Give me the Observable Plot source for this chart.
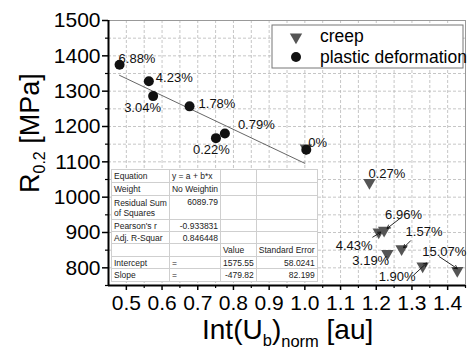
<!DOCTYPE html>
<html><head><meta charset="utf-8">
<script src="https://cdn.jsdelivr.net/npm/d3@7"></script>
<script src="https://cdn.jsdelivr.net/npm/@observablehq/plot@0.6"></script>
<style>
body{margin:0;background:#fff;}
#wrap{position:relative;width:468px;height:349px;font-family:"Liberation Sans",Arial,sans-serif;}
#fit{position:absolute;left:111px;top:169px;border-collapse:collapse;background:#fff;font-size:8.5px;color:#222;table-layout:fixed;border:1px solid #999;}
#fit td{border:1px solid #cfcfcf;padding:0 2px;vertical-align:middle;line-height:10px;white-space:nowrap;overflow:hidden;}
#fit td.r{text-align:right;}
#fit td.t{vertical-align:top;padding-top:1px;}
</style></head><body><div id="wrap"></div>
<script>
// ---- data ----
const plasticX = [0.481, 0.563, 0.575, 0.677, 0.751, 0.776, 1.004];
const plasticY = [1375, 1328, 1286, 1257, 1167, 1180, 1134];
const plasticLabels = ["6.88%", "4.23%", "3.04%", "1.78%", "0.22%", "0.79%", "0%"];

const creepX = [1.003, 1.181, 1.207, 1.222, 1.231, 1.271, 1.330, 1.427];
const creepY = [1139, 1041, 901, 906, 840, 854, 805, 792];
const creepLabels = ["", "0.27%", "4.43%", "6.96%", "3.19%", "1.57%", "1.90%", "15.07%"];

const fitIntercept = 1575.55, fitSlope = -479.82;
const fitRange = [0.481, 1.0];

const xMajor = [0.5, 0.6, 0.7, 0.8, 0.9, 1.0, 1.1, 1.2, 1.3, 1.4];
const xMinor = [0.55, 0.65, 0.75, 0.85, 0.95, 1.05, 1.15, 1.25, 1.35, 1.45];
const yMajor = [800, 900, 1000, 1100, 1200, 1300, 1400, 1500];
const yMinor = [750, 850, 950, 1050, 1150, 1250, 1350, 1450];

const seriesNames = ["creep", "plastic deformation"];
const fitTable = [
  ["Equation", "y = a + b*x", "", ""],
  ["Weight", "No Weightin", "", ""],
  ["Residual Sum<br>of Squares", "6089.79", "", ""],
  ["Pearson's r", "-0.933831", "", ""],
  ["Adj. R-Squar", "0.846448", "", ""],
  ["", "", "Value", "Standard Error"],
  ["Intercept", "=", "1575.55", "58.0241"],
  ["Slope", "=", "-479.82", "82.199"]
];

// ---- layout (pixel offsets of labels / arrows relative to their points) ----
const W = 468, H = 349, mL = 108, mR = 3, mT = 20, mB = 64;
const xDomain = [0.45, 1.45], yDomain = [750, 1500];
const plasticLabelOff = [[-1,-6],[7,-3],[-29,12],[9,-3],[-23,12],[13,-9],[2,-7]];
const creepLabelOff = [[0,0],[-1,-9],[-43,14],[1,-16],[-35,7],[4,-17],[-44,11],[-35,-19]];
const creepArrows = {2: [[-6,5],[2,0]], 3: [[16,-12],[3,-2]], 5: [[9,-8],[2,-1]], 6: [[-9,9],[4,-3]], 7: [[-18,-14],[0,-2]]};

const xs = d3.scaleLinear(xDomain, [mL, W - mR]);
const ys = d3.scaleLinear(yDomain, [H - mB, mT]);
const shift = (x, y, o) => ({x: xs.invert(xs(x) + o[0]), y: ys.invert(ys(y) + o[1])});

const plastic = plasticX.map((x, i) => ({x, y: plasticY[i], label: plasticLabels[i]}));
const creep = creepX.map((x, i) => ({x, y: creepY[i], label: creepLabels[i]}));
const labels = [
  ...plastic.map((d, i) => ({...shift(d.x, d.y, plasticLabelOff[i]), label: d.label})),
  ...creep.map((d, i) => ({...shift(d.x, d.y, creepLabelOff[i]), label: d.label})).filter(d => d.label)
];
const arrows = Object.entries(creepArrows).map(([i, [a, b]]) => {
  const d = creep[+i], p1 = shift(d.x, d.y, a), p2 = shift(d.x, d.y, b);
  return {x1: p1.x, y1: p1.y, x2: p2.x, y2: p2.y};
});
const fitLine = fitRange.map(x => ({x, y: fitIntercept + fitSlope * x}));
const gridX = xMajor.concat(xMinor).filter(v => v < 1.449);
const gridY = yMajor.concat(yMinor).filter(v => v > 751 && v < 1499);

const font = "Liberation Sans, Arial, sans-serif";
const chart = Plot.plot({
  width: W, height: H,
  marginLeft: mL, marginRight: mR, marginTop: mT, marginBottom: mB,
  x: {domain: xDomain, label: null},
  y: {domain: yDomain, label: null},
  style: {fontFamily: font, background: "white", color: "#000"},
  marks: [
    Plot.ruleX(gridX, {stroke: "#b8b8b8", strokeDasharray: "3,2", strokeWidth: 0.8}),
    Plot.ruleY(gridY, {stroke: "#b8b8b8", strokeDasharray: "3,2", strokeWidth: 0.8}),
    Plot.frame({stroke: "#999"}),
    Plot.line(fitLine, {x: "x", y: "y", stroke: "#555", strokeWidth: 0.9}),
    Plot.dot(creep, {x: "x", y: "y", symbol: "triangle", rotate: 180, r: 4.6, fill: "#555", stroke: "none"}),
    Plot.dot(plastic, {x: "x", y: "y", r: 5, fill: "#111", stroke: "none"}),
    Plot.text(labels, {x: "x", y: "y", text: "label", textAnchor: "start", fontSize: 13, fill: "#111"}),
    Plot.arrow(arrows, {x1: "x1", y1: "y1", x2: "x2", y2: "y2", stroke: "#111", strokeWidth: 0.9, headLength: 6}),
    Plot.ruleX([xDomain[0]], {stroke: "#000", strokeWidth: 2}),
    Plot.ruleY([yDomain[0]], {stroke: "#000", strokeWidth: 2}),
    Plot.axisX({ticks: xMajor, tickSize: 5, tickPadding: 5, tickFormat: d3.format(".1f"), fontSize: 21, label: null, strokeWidth: 1.5}),
    Plot.axisX({ticks: xMinor, tickSize: 3, tickFormat: () => "", label: null, strokeWidth: 1.2}),
    Plot.axisY({ticks: yMajor, tickSize: 6, tickPadding: 2, tickFormat: d3.format("d"), fontSize: 21, label: null, strokeWidth: 1.5}),
    Plot.axisY({ticks: yMinor, tickSize: 3, tickFormat: () => "", label: null, strokeWidth: 1.2})
  ]
});

const wrap = document.getElementById("wrap");
wrap.appendChild(chart);
const svg = d3.select(chart);

// axis titles
const yt = svg.append("text").attr("transform", "translate(39,193) rotate(-90)")
  .attr("text-anchor", "start").attr("font-size", 27).attr("font-family", font).attr("fill", "#000");
yt.append("tspan").text("R");
yt.append("tspan").attr("font-size", 16).attr("dy", 6).text("0.2");
yt.append("tspan").attr("dy", -6).text(" [MPa]");

const xt = svg.append("text").attr("x", 202).attr("y", 339).attr("text-anchor", "start")
  .attr("font-size", 28).attr("font-family", font).attr("fill", "#000");
xt.append("tspan").text("Int(U");
xt.append("tspan").attr("font-size", 16.5).attr("dy", 7).text("b");
xt.append("tspan").attr("dy", -7).text(")");
xt.append("tspan").attr("font-size", 16.5).attr("dy", 8).text("norm");
xt.append("tspan").attr("dy", -8).text(" [au]");

// legend
const lg = svg.append("g").attr("font-family", font).attr("font-size", 17.5).attr("text-anchor", "start");
lg.append("rect").attr("x", 272).attr("y", 25).attr("width", 191).attr("height", 43)
  .attr("fill", "white").attr("stroke", "#777");
lg.append("path").attr("d", d3.symbol(d3.symbolTriangle, 66)()).attr("transform", "translate(296,37) rotate(180)").attr("fill", "#555");
lg.append("circle").attr("cx", 296).attr("cy", 57).attr("r", 5).attr("fill", "#111");
lg.append("text").attr("x", 320).attr("y", 42).text(seriesNames[0]);
lg.append("text").attr("x", 320).attr("y", 63).text(seriesNames[1]);

// fit table
const widths = [52, 50, 34, 61];
const heights = [13, 13, 24, 12, 12, 13, 12, 13];
const tbl = document.createElement("table");
tbl.id = "fit";
const cg = document.createElement("colgroup");
widths.forEach(w => { const c = document.createElement("col"); c.style.width = w + "px"; cg.appendChild(c); });
tbl.appendChild(cg);
fitTable.forEach((row, ri) => {
  const tr = document.createElement("tr");
  tr.style.height = heights[ri] + "px";
  row.forEach((cell, ci) => {
    const td = document.createElement("td");
    td.innerHTML = cell;
    const numeric = /^-?[0-9]/.test(cell) && ci > 0;
    if (numeric) td.className = "r";
    if (ri === 2 && ci > 0) td.className += " t";
    tr.appendChild(td);
  });
  tbl.appendChild(tr);
});
wrap.appendChild(tbl);
</script>
</body></html>
